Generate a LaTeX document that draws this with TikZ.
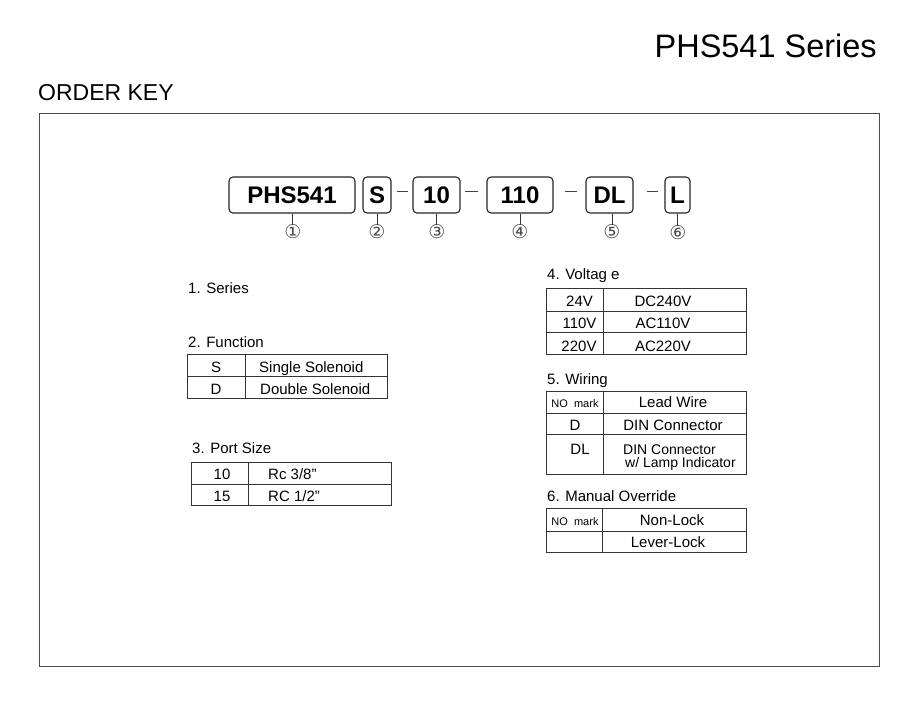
\documentclass[tikz,border=0pt]{standalone}
\usepackage{fontspec}
\setmainfont{Liberation Sans}
\newfontfamily\circfont{DejaVu Sans}
\begin{document}
\begin{tikzpicture}[x=1pt,y=-1pt,
  keybox/.style={draw=black!85,line width=1.1pt,rounded corners=4pt,inner sep=0pt,minimum height=36pt,font=\bfseries\fontsize{24}{24}\selectfont},
  dashline/.style={draw=black!75,line width=0.9pt},
  stem/.style={draw=black!80,line width=0.8pt},
  circnum/.style={inner sep=0pt,text=black!70,font=\circfont\fontsize{19}{19}\selectfont},
  head/.style={anchor=base west,inner sep=0pt,font=\fontsize{15}{15}\selectfont},
  cell/.style={anchor=base,inner sep=0pt,font=\fontsize{15}{15}\selectfont},
  cellw/.style={anchor=base west,inner sep=0pt,font=\fontsize{15}{15}\selectfont},
  small/.style={anchor=base,inner sep=0pt,font=\fontsize{11}{11}\selectfont},
  tline/.style={draw=black!80,line width=1pt}
]
\useasboundingbox (0,0) rectangle (907,707);
% titles
\node[anchor=base east,inner sep=0pt,font=\fontsize{32.5}{32.5}\selectfont] (title) at (877,57) {PHS541 Series};
\node[anchor=base west,inner sep=0pt,font=\fontsize{23}{23}\selectfont] (orderkey) at (38,100) {ORDER KEY};
% frame
\draw[draw=black!70,line width=0.8pt] (39,113) rectangle (879,666);
% key boxes
\node[keybox,minimum width=126pt] (b1) at (292,195) {PHS541};
\node[keybox,minimum width=28pt] (b2) at (377,195) {S};
\node[keybox,minimum width=47pt] (b3) at (436.5,195) {10};
\node[keybox,minimum width=66pt] (b4) at (520,195) {110};
\node[keybox,minimum width=47pt] (b5) at (609.5,195) {DL};
\node[keybox,minimum width=25pt] (b6) at (677.5,195) {L};
% dashes
\coordinate (d1a) at (397,191); \coordinate (d1b) at (408,191);
\coordinate (d2a) at (465,191); \coordinate (d2b) at (478,191);
\coordinate (d3a) at (565,191); \coordinate (d3b) at (577,191);
\coordinate (d4a) at (647,191); \coordinate (d4b) at (658,191);
\draw[dashline] (d1a) -- (d1b);
\draw[dashline] (d2a) -- (d2b);
\draw[dashline] (d3a) -- (d3b);
\draw[dashline] (d4a) -- (d4b);
% circled numbers
\node[circnum] (c1) at (293,232) {①};
\node[circnum] (c2) at (377,232) {②};
\node[circnum] (c3) at (437,232) {③};
\node[circnum] (c4) at (520,232) {④};
\node[circnum] (c5) at (612,232) {⑤};
\node[circnum] (c6) at (678,233) {⑥};
\draw[stem] (b1.south) -- (b1.south |- c1.north);
\draw[stem] (b2.south) -- (b2.south |- c2.north);
\draw[stem] (b3.south) -- (b3.south |- c3.north);
\draw[stem] (b4.south) -- (b4.south |- c4.north);
\draw[stem] (b5.south -| c5) -- (c5.north);
\draw[stem] (b6.south) -- (b6.south |- c6.north);
% 1. Series
\node[head] (h1) at (188,293) {1. Series};
% 2. Function
\node[head] (h2) at (188,347) {2. Function};
\draw[tline] (187,354) rectangle (387,398);
\draw[tline] (187,376) -- (387,376);
\draw[tline] (245,354) -- (245,398);
\node[cell] (f1a) at (216,372) {S};
\node[cellw] (f1b) at (259,372) {Single Solenoid};
\node[cell] (f2a) at (216,394) {D};
\node[cellw] (f2b) at (260,394) {Double Solenoid};
% 3. Port Size
\node[head] (h3) at (192,453) {3. Port Size};
\draw[tline] (191,462) rectangle (391,505);
\draw[tline] (191,484) -- (391,484);
\draw[tline] (248,462) -- (248,505);
\node[cell] (p1a) at (222,479) {10};
\node[cellw] (p1b) at (268,479) {Rc 3/8”};
\node[cell] (p2a) at (222,501) {15};
\node[cellw] (p2b) at (268,501) {RC 1/2”};
% 4. Voltage
\node[head] (h4) at (547,279) {4. Voltag e};
\draw[tline] (546,288) rectangle (746,354);
\draw[tline] (546,311) -- (746,311);
\draw[tline] (546,332) -- (746,332);
\draw[tline] (603,288) -- (603,354);
\node[cell] (v1a) at (579.5,306) {24V};
\node[cell] (v1b) at (663,306) {DC240V};
\node[cell] (v2a) at (579.5,328) {110V};
\node[cell] (v2b) at (663,328) {AC110V};
\node[cell] (v3a) at (579,351) {220V};
\node[cell] (v3b) at (663,351) {AC220V};
% 5. Wiring
\node[head] (h5) at (547,384) {5. Wiring};
\draw[tline] (546,391) rectangle (746,474);
\draw[tline] (546,413) -- (746,413);
\draw[tline] (546,434) -- (746,434);
\draw[tline] (603,391) -- (603,474);
\node[small] (w1a) at (575,407) {NO\ \ mark};
\node[cell] (w1b) at (673,407) {Lead Wire};
\node[cell] (w2a) at (575,430) {D};
\node[cell] (w2b) at (673,430) {DIN Connector};
\node[cell] (w3a) at (580,454) {DL};
\node[anchor=base west,inner sep=0pt,font=\fontsize{14}{14}\selectfont] (w3b) at (623,454) {DIN Connector};
\node[anchor=base west,inner sep=0pt,font=\fontsize{14}{14}\selectfont] (w3c) at (625,467) {w/ Lamp Indicator};
% 6. Manual Override
\node[head] (h6) at (547,501) {6. Manual Override};
\draw[tline] (546,508) rectangle (746,552);
\draw[tline] (546,531) -- (746,531);
\draw[tline] (602,508) -- (602,552);
\node[small] (m1a) at (575,525) {NO\ \ mark};
\node[cell] (m1b) at (672,525) {Non-Lock};
\node[cell] (m2b) at (668,547) {Lever-Lock};
\end{tikzpicture}
\end{document}
